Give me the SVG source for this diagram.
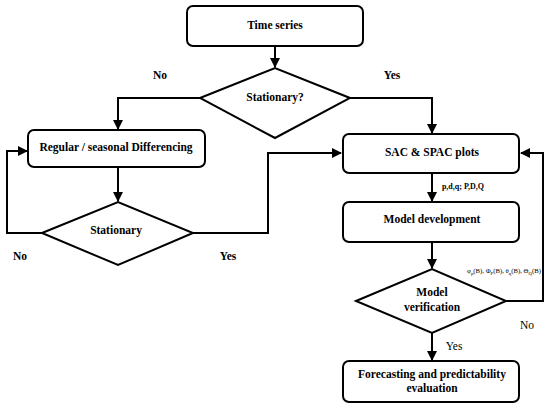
<svg xmlns="http://www.w3.org/2000/svg" width="550" height="409" viewBox="0 0 550 409">
<style>
.box{fill:#fff;stroke:#000;stroke-width:2}
.ln{fill:none;stroke:#000;stroke-width:2}
text{font-family:"Liberation Serif","Times New Roman",serif;font-size:11.5px;font-weight:bold;text-anchor:middle;fill:#000}
.n{font-weight:normal}
.s{font-size:8px}
</style>
<defs>
<marker id="ar" viewBox="0 0 10 10" refX="9" refY="5" markerWidth="5" markerHeight="5" orient="auto">
<path d="M0,0 L10,5 L0,10 z" fill="#000"/>
</marker>
</defs>
<rect width="550" height="409" fill="#fff"/>
<g id="connectors">
<path class="ln" d="M275,46 V67" marker-end="url(#ar)"/>
<path class="ln" d="M200,98 H118 V129" marker-end="url(#ar)"/>
<path class="ln" d="M350,98 H432 V133" marker-end="url(#ar)"/>
<path class="ln" d="M118,167 V201" marker-end="url(#ar)"/>
<path class="ln" d="M42,233 H7 V151 H27" marker-end="url(#ar)"/>
<path class="ln" d="M193,233 H268 V153 H341" marker-end="url(#ar)"/>
<path class="ln" d="M432,173 V201" marker-end="url(#ar)"/>
<path class="ln" d="M432,242 V268" marker-end="url(#ar)"/>
<path class="ln" d="M506,301 H543 V153 H521" marker-end="url(#ar)"/>
<path class="ln" d="M432,333 V360" marker-end="url(#ar)"/>
<text x="160" y="79">No</text>
<text x="392" y="79">Yes</text>
<text x="20" y="260">No</text>
<text x="228" y="260">Yes</text>
<text x="463" y="189" class="s">p,d,q; P,D,Q</text>
<text x="504" y="273" class="n" style="font-size:7px" textLength="74" lengthAdjust="spacingAndGlyphs">φ<tspan font-size="5" dy="1.5">p</tspan><tspan dy="-1.5">(B), Φ</tspan><tspan font-size="5" dy="1.5">P</tspan><tspan dy="-1.5">(B), θ</tspan><tspan font-size="5" dy="1.5">q</tspan><tspan dy="-1.5">(B), Θ</tspan><tspan font-size="5" dy="1.5">Q</tspan><tspan dy="-1.5">(B)</tspan></text>
<text x="527" y="329" class="n">No</text>
<text x="454" y="350" class="n">Yes</text>
</g>
<g id="time-series">
<rect class="box" x="187" y="6" width="176" height="40" rx="6"/>
<text x="275" y="29">Time series</text>
</g>
<g id="stationary-q">
<polygon class="box" points="200,98 275,68 350,98 275,138"/>
<text x="275" y="101">Stationary?</text>
</g>
<g id="differencing">
<rect class="box" x="28" y="130" width="177" height="37" rx="6"/>
<text x="116" y="151">Regular / seasonal Differencing</text>
</g>
<g id="stationary">
<polygon class="box" points="42,233 118,202 193,233 118,265"/>
<text x="116" y="234">Stationary</text>
</g>
<g id="sac-spac">
<rect class="box" x="343" y="134" width="176" height="39" rx="6"/>
<text x="432" y="156">SAC &amp; SPAC plots</text>
</g>
<g id="model-development">
<rect class="box" x="343" y="202" width="176" height="40" rx="6"/>
<text x="432" y="223">Model development</text>
</g>
<g id="model-verification">
<polygon class="box" points="356,301 432,269 506,301 432,333"/>
<text x="432" y="296">Model</text>
<text x="432" y="311">verification</text>
</g>
<g id="forecasting">
<rect class="box" x="343" y="361" width="176" height="41" rx="6"/>
<text x="432" y="378">Forecasting and predictability</text>
<text x="432" y="392">evaluation</text>
</g>
</svg>
